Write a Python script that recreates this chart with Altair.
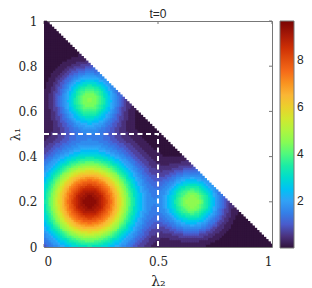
import altair as alt
import numpy as np
import pandas as pd

# ---- values ----
title_text = "t=0"
blob_l2 = [0.20, 0.20, 0.65]      # λ2 (x) centres of the three bumps
blob_l1 = [0.20, 0.65, 0.20]      # λ1 (y) centres
blob_peak = [9.6, 4.6, 4.8]       # peak heights
blob_sigma = [0.135, 0.083, 0.083]  # widths
grid_n = 100                      # cells per unit side
n_levels = 40                     # filled contour levels
cmax = 9.65                       # top of the colour bar
x_ticks = [0, 0.5, 1]
y_ticks = [0, 0.2, 0.4, 0.6, 0.8, 1]
cbar_ticks = [2, 4, 6, 8]
dash_l2 = [0, 0.5, 0.5]
dash_l1 = [0.5, 0.5, 0]
turbo = ["#30123b", "#4662d7", "#36aaf9", "#1ae4b6", "#72fe5e",
         "#c8ef34", "#faba39", "#f66b19", "#cb2a04", "#7a0403"]

# ---- build the triangular field ----
step = 1.0 / grid_n
rows = []
lev = cmax / n_levels
for i in range(grid_n):
    for j in range(grid_n):
        cx = (i + 0.5) * step
        cy = (j + 0.5) * step
        if cx + cy > 1.0:
            continue
        v = 0.0
        for bx, by, bp, bs in zip(blob_l2, blob_l1, blob_peak, blob_sigma):
            v += bp * np.exp(-((cx - bx) ** 2 + (cy - by) ** 2) / (2 * bs ** 2))
        vq = np.floor(v / lev) * lev
        rows.append({"x0": i * step, "x1": min(1.0, (i + 1.5) * step),
                     "y0": j * step, "y1": min(1.0, (j + 1.5) * step), "v": vq})
field = pd.DataFrame(rows)

W, H = 228, 226
xs = alt.Scale(domain=[0, 1], nice=False, zero=False)
ys = alt.Scale(domain=[0, 1], nice=False, zero=False)
cdom = [k * cmax / (len(turbo) - 1) for k in range(len(turbo))]
ax_x = alt.Axis(values=x_ticks, format="~g", title="λ₂", labelPadding=9, titlePadding=7)
ax_y = alt.Axis(values=y_ticks, format="~g", title="λ₁", labelPadding=7,
                titleX=-25, titleBaseline="alphabetic", titleFontSize=13)

heat = alt.Chart(field).mark_rect().encode(
    x=alt.X("x0:Q", scale=xs, axis=ax_x),
    x2="x1",
    y=alt.Y("y0:Q", scale=ys, axis=ax_y),
    y2="y1",
    color=alt.Color("v:Q", scale=alt.Scale(domain=cdom, range=turbo),
                    legend=alt.Legend(title=None, values=cbar_ticks, orient="right",
                                      gradientLength=227, gradientThickness=14,
                                      gradientStrokeColor="#777", gradientStrokeWidth=1,
                                      labelFont="Liberation Sans", labelFontSize=12,
                                      labelColor="#262626", labelOffset=3,
                                      offset=8, padding=0)),
)

tx = pd.DataFrame({"t": x_ticks})
ty = pd.DataFrame({"t": y_ticks})
tick_col = "#777"
tb = alt.Chart(tx).mark_rule(color=tick_col).encode(
    x=alt.X("t:Q", scale=xs, axis=ax_x), y=alt.value(H), y2=alt.value(H - 3))
tt = alt.Chart(tx).mark_rule(color=tick_col).encode(
    x=alt.X("t:Q", scale=xs, axis=ax_x), y=alt.value(0), y2=alt.value(3))
tl = alt.Chart(ty).mark_rule(color=tick_col).encode(
    y=alt.Y("t:Q", scale=ys, axis=ax_y), x=alt.value(0), x2=alt.value(3))
tr = alt.Chart(ty).mark_rule(color=tick_col).encode(
    y=alt.Y("t:Q", scale=ys, axis=ax_y), x=alt.value(W), x2=alt.value(W - 3))

dash_df = pd.DataFrame({"a": dash_l2, "b": dash_l1, "o": list(range(len(dash_l2)))})
dash = alt.Chart(dash_df).mark_line(color="white", strokeWidth=2, strokeDash=[5, 3.5]).encode(
    x=alt.X("a:Q", scale=xs, axis=ax_x), y=alt.Y("b:Q", scale=ys, axis=ax_y), order="o:Q")

title_df = pd.DataFrame({"label": [title_text]})
title_mark = alt.Chart(title_df).mark_text(
    font="Liberation Sans", fontSize=12, color="#262626", baseline="alphabetic", align="center"
).encode(text="label:N", x=alt.value(W / 2), y=alt.value(-3))

chart = alt.layer(tb, tt, tl, tr, heat, dash, title_mark).properties(
    width=W, height=H,
    autosize=alt.AutoSizeParams(type="none"),
    padding={"left": 36, "top": 13, "right": 32, "bottom": 41},
).configure_view(stroke="#777", strokeWidth=1).configure_axis(
    domain=False, ticks=False, grid=False,
    labelFont="DejaVu Serif", labelFontSize=12, labelColor="#262626",
    titleFont="DejaVu Serif", titleFontSize=14, titleFontWeight="normal", titleColor="#262626",
)

chart.save("out.html", embed_options={"renderer": "svg", "actions": False})
